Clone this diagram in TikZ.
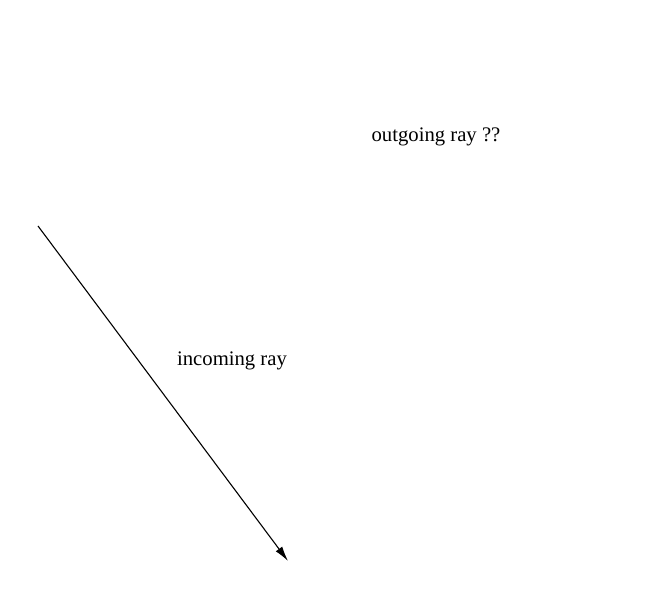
\documentclass[tikz,border=0pt]{standalone}
\usepackage{fontspec}
\setmainfont{Liberation Serif}
\usetikzlibrary{arrows.meta}
\begin{document}
\begin{tikzpicture}[x=1pt,y=1pt,
  lbl/.style={inner sep=0pt, font=\fontsize{20.7}{24}\selectfont},
  ray/.style={line width=1.1pt, -{Latex[length=15pt,width=8pt]}}]
\useasboundingbox (0,0) rectangle (668,615);
\coordinate (start) at (38,389);
\coordinate (tip) at (288,54);
\draw[ray] (start) -- (tip);
\node[lbl] (inc) at (232,254) {incoming ray};
\node[lbl] (out) at (436,478) {outgoing ray ??};
\end{tikzpicture}
\end{document}
